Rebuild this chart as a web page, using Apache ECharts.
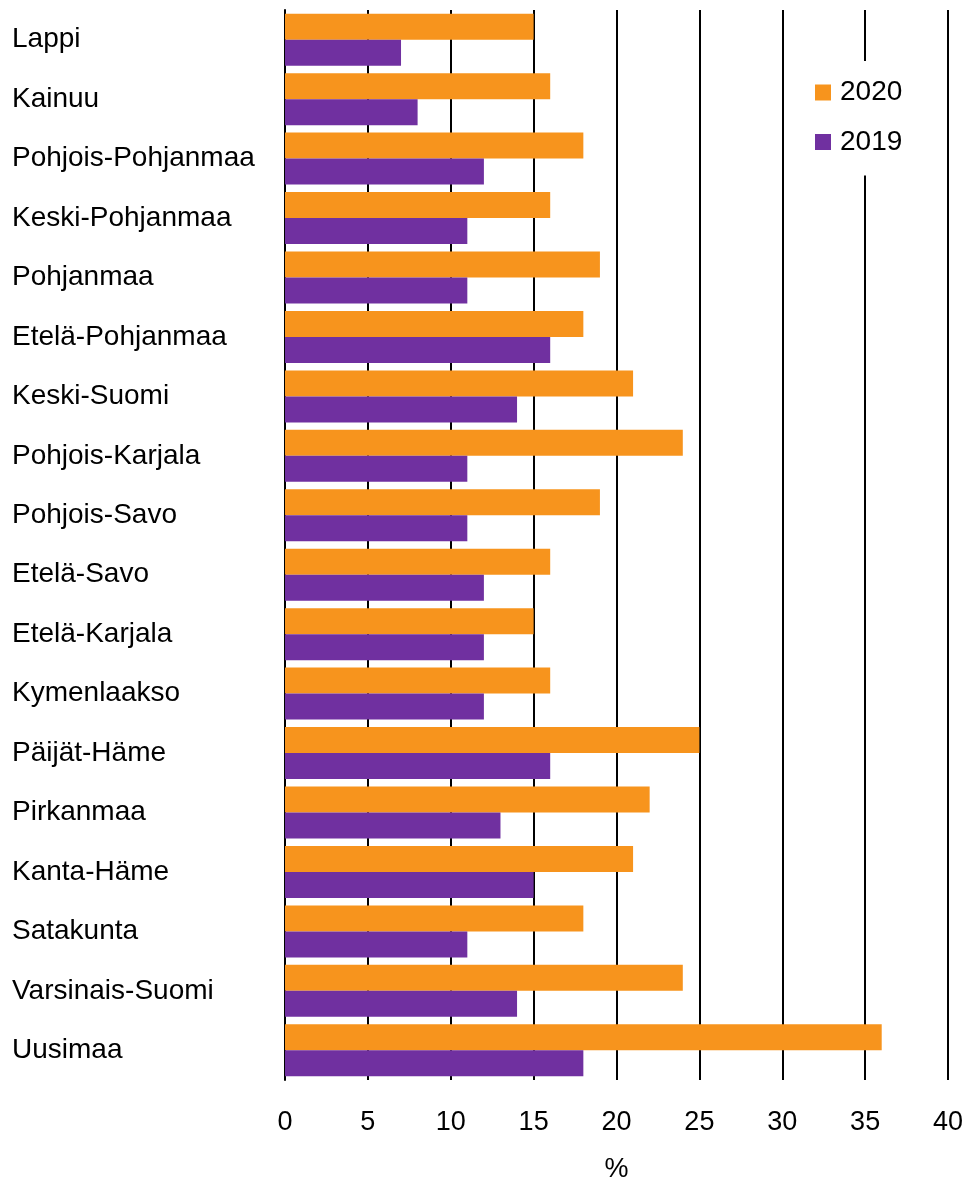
<!DOCTYPE html>
<html><head><meta charset="utf-8">
<script src="https://cdn.jsdelivr.net/npm/echarts@6/dist/echarts.min.js"></script>
<style>html,body{margin:0;padding:0;background:#fff}#c{width:967px;height:1180px}</style>
</head><body><div id="c"></div>
<script>
const categories = ["Lappi","Kainuu","Pohjois-Pohjanmaa","Keski-Pohjanmaa","Pohjanmaa","Etelä-Pohjanmaa","Keski-Suomi","Pohjois-Karjala","Pohjois-Savo","Etelä-Savo","Etelä-Karjala","Kymenlaakso","Päijät-Häme","Pirkanmaa","Kanta-Häme","Satakunta","Varsinais-Suomi","Uusimaa"];
const values2020 = [15,16,18,16,19,18,21,24,19,16,15,16,25,22,21,18,24,36];
const values2019 = [7,8,12,11,11,16,14,11,11,12,12,12,16,13,15,11,14,18];
const xTicks = [0,5,10,15,20,25,30,35,40];

const chart = echarts.init(document.getElementById('c'));
const font = 'Liberation Sans, Arial, sans-serif';
chart.setOption({
  animation: false,
  textStyle: {fontFamily: font},
  grid: {left: 285, right: 19, top: 10, bottom: 100, containLabel: false, outerBoundsMode: 'none'},
  legend: {
    orient: 'vertical', left: 805, top: 61,
    data: ['2020','2019'],
    itemWidth: 16, itemHeight: 16, itemGap: 21.5,
    backgroundColor: '#fff', padding: [17.5, 12, 19.5, 10],
    textStyle: {fontSize: 28, lineHeight: 28, color: '#000', fontFamily: font, padding: [0,0,0,4]},
    icon: 'rect'
  },
  xAxis: {
    type: 'value', min: 0, max: 40, interval: 5,
    name: '%', nameLocation: 'middle', nameGap: 76,
    nameTextStyle: {fontSize: 27, color: '#000', fontFamily: font},
    axisLine: {show: false}, axisTick: {show: false},
    axisLabel: {fontSize: 27, color: '#000', margin: 29, fontFamily: font,
      formatter: v => xTicks.includes(v) ? String(v) : ''},
    splitLine: {show: true, lineStyle: {color: '#000', width: 2}}
  },
  yAxis: {
    type: 'category', data: categories, inverse: true,
    axisLine: {show: true, lineStyle: {color: '#000', width: 2}},
    axisTick: {show: false},
    axisLabel: {fontSize: 28, color: '#000', align: 'left', margin: 273, fontFamily: font,
      padding: [4, 0, 0, 0]}
  },
  series: [
    {name: '2020', type: 'bar', data: values2020, barGap: '0%', barCategoryGap: '12.5%',
     itemStyle: {color: '#F7941D'}},
    {name: '2019', type: 'bar', data: values2019, barGap: '0%', barCategoryGap: '12.5%',
     itemStyle: {color: '#7030A0'}}
  ]
});
</script></body></html>
